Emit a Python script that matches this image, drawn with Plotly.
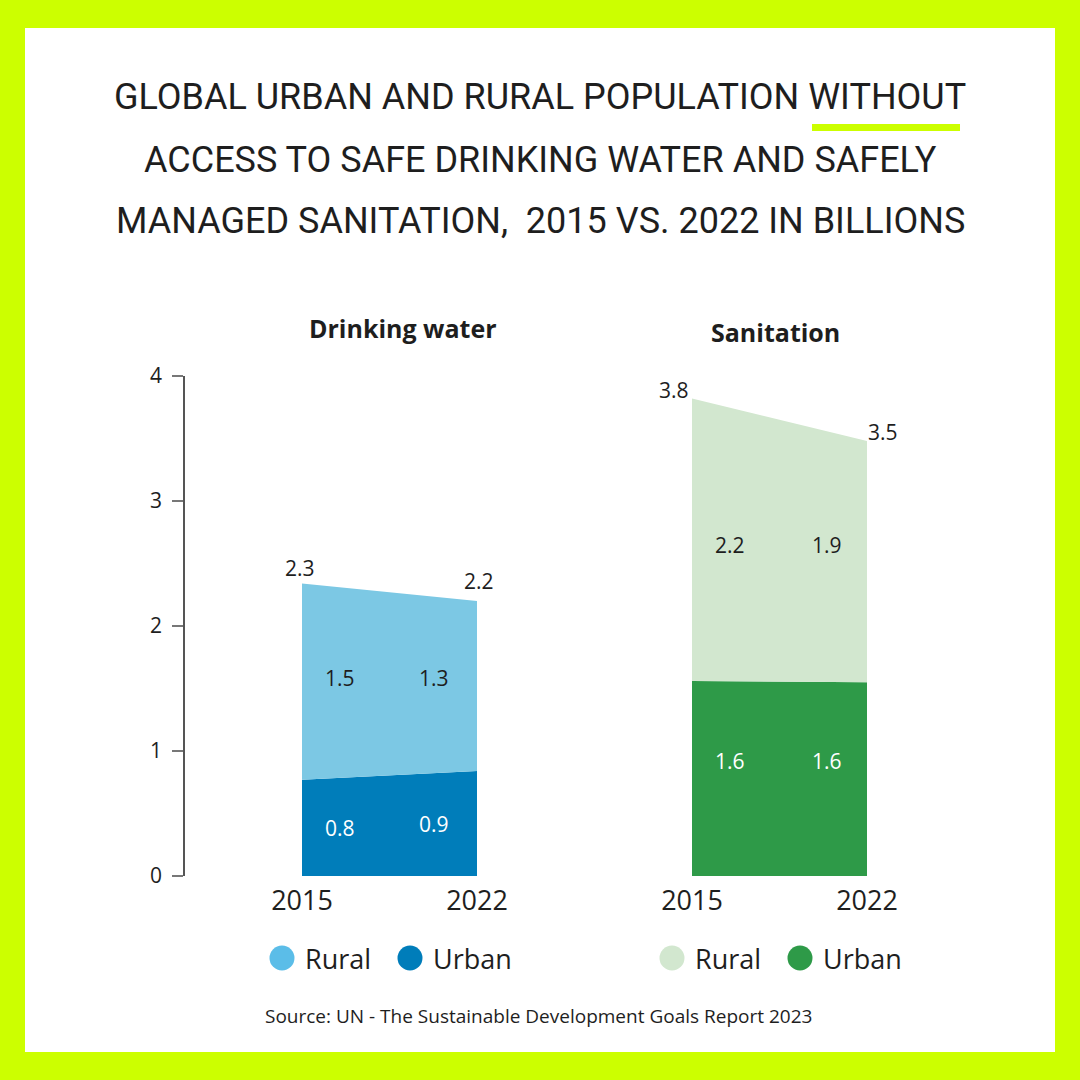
import plotly.graph_objects as go

# ---- data (billions) ----
years = [2015, 2022]
water_urban = [0.77, 0.84]
water_rural = [1.57, 1.36]
san_urban = [1.56, 1.55]
san_rural = [2.26, 1.93]

water_urban_lbl = ["0.8", "0.9"]
water_rural_lbl = ["1.5", "1.3"]
water_total_lbl = ["2.3", "2.2"]
san_urban_lbl = ["1.6", "1.6"]
san_rural_lbl = ["2.2", "1.9"]
san_total_lbl = ["3.8", "3.5"]

y_ticks = [0, 1, 2, 3, 4]
year_ticks = ["2015", "2022"]
legend_names = ["Rural", "Urban"]

# ---- colours ----
LIME = "#CCFF00"
W_RURAL = "#7CC8E4"
W_URBAN = "#007DBA"
W_RURAL_LEG = "#5BBDE8"
S_RURAL = "#D2E7CF"
S_URBAN = "#2E9A48"
TXT = "#1E1E1E"
NUMFONT = "Open Sans, Noto Sans, sans-serif"
TITLEFONT = "Roboto, Liberation Sans, sans-serif"

water_total = [u + r for u, r in zip(water_urban, water_rural)]
san_total = [u + r for u, r in zip(san_urban, san_rural)]

fig = go.Figure()

# Drinking water
fig.add_trace(go.Scatter(x=years, y=water_urban, mode="lines", line=dict(width=0),
                         fill="tozeroy", fillcolor=W_URBAN, name="Urban", showlegend=False,
                         hoverinfo="skip", xaxis="x", yaxis="y"))
fig.add_trace(go.Scatter(x=years, y=water_total, mode="lines", line=dict(width=0),
                         fill="tonexty", fillcolor=W_RURAL, name="Rural", showlegend=False,
                         hoverinfo="skip", xaxis="x", yaxis="y"))
# Sanitation
fig.add_trace(go.Scatter(x=years, y=san_urban, mode="lines", line=dict(width=0),
                         fill="tozeroy", fillcolor=S_URBAN, name="Urban", showlegend=False,
                         hoverinfo="skip", xaxis="x2", yaxis="y"))
fig.add_trace(go.Scatter(x=years, y=san_total, mode="lines", line=dict(width=0),
                         fill="tonexty", fillcolor=S_RURAL, name="Rural", showlegend=False,
                         hoverinfo="skip", xaxis="x2", yaxis="y"))

ann = []
def lbl(xref, x, y, text, color=TXT, xshift=0, yshift=0, size=21):
    ann.append(dict(xref=xref, yref="y", x=x, y=y, text=text, showarrow=False,
                    xanchor="center", yanchor="middle", xshift=xshift, yshift=yshift,
                    font=dict(family=NUMFONT, size=size, color=color)))

# value labels: water
w_rural_mid = sum(u + r / 2 for u, r in zip(water_urban, water_rural)) / 2
for i, xv in enumerate(years):
    sh = 38 if i == 0 else -43
    lbl("x", xv, water_urban[i] / 2, water_urban_lbl[i], "white", xshift=sh)
    lbl("x", xv, w_rural_mid, water_rural_lbl[i], xshift=sh, yshift=6)
lbl("x", years[0], water_total[0], water_total_lbl[0], xshift=-2, yshift=16)
lbl("x", years[1], water_total[1], water_total_lbl[1], xshift=2, yshift=20)
# value labels: sanitation
s_rural_mid = sum(u + r / 2 for u, r in zip(san_urban, san_rural)) / 2
for i, xv in enumerate(years):
    sh = 38 if i == 0 else -40
    lbl("x2", xv, san_urban[i] / 2, san_urban_lbl[i], "white", xshift=sh, yshift=18)
    lbl("x2", xv, s_rural_mid, san_rural_lbl[i], xshift=sh, yshift=6)
lbl("x2", years[0], san_total[0], san_total_lbl[0], xshift=-18, yshift=8)
lbl("x2", years[1], san_total[1], san_total_lbl[1], xshift=16, yshift=9)

def pann(x, y, text, font, xanchor="center"):
    ann.append(dict(xref="paper", yref="paper", x=x / 1080, y=1 - y / 1080, text=text,
                    showarrow=False, xanchor=xanchor, yanchor="middle", font=font))

# panel titles
pann(403, 328, "<b>Drinking water</b>", dict(family=NUMFONT, size=25, color=TXT))
pann(775, 332, "<b>Sanitation</b>", dict(family=NUMFONT, size=25, color=TXT))

# main title
title_lines = ["GLOBAL URBAN AND RURAL POPULATION WITHOUT",
               "ACCESS TO SAFE DRINKING WATER AND SAFELY",
               "MANAGED SANITATION,  2015 VS. 2022 IN BILLIONS"]
for line, yc in zip(title_lines, [97, 160, 221]):
    pann(540, yc, line, dict(family=TITLEFONT, size=36, color=TXT))

# source
pann(538, 1016, "Source: UN - The Sustainable Development Goals Report 2023",
     dict(family=NUMFONT, size=19, color=TXT))

shapes = [
    dict(type="rect", xref="paper", yref="paper", x0=25 / 1080, x1=1055 / 1080,
         y0=1 - 1052 / 1080, y1=1 - 28 / 1080, fillcolor="white", line=dict(width=0), layer="below"),
    dict(type="rect", xref="paper", yref="paper", x0=812 / 1080, x1=960 / 1080,
         y0=1 - 131 / 1080, y1=1 - 124 / 1080, fillcolor=LIME, line=dict(width=0)),
]

# legends (large dots + labels)
LEG_Y = 958
for x0, cols in [(282, [W_RURAL_LEG, W_URBAN]), (672, [S_RURAL, S_URBAN])]:
    for j, (nm, col) in enumerate(zip(legend_names, cols)):
        cx = x0 + 128 * j
        shapes.append(dict(type="circle", xref="paper", yref="paper",
                           x0=(cx - 12.5) / 1080, x1=(cx + 12.5) / 1080,
                           y0=1 - (LEG_Y + 12.5) / 1080, y1=1 - (LEG_Y - 12.5) / 1080,
                           fillcolor=col, line=dict(width=0)))
        pann(cx + 21, LEG_Y, nm, dict(family=NUMFONT, size=27, color=TXT), xanchor="left")

xcommon = dict(range=[2015, 2022], tickvals=years, ticktext=year_ticks, showline=False,
               showgrid=False, zeroline=False, ticks="", anchor="y",
               tickfont=dict(family=NUMFONT, size=27, color=TXT), ticklabelstandoff=6,
               fixedrange=True)

fig.update_layout(
    width=1080, height=1080, margin=dict(l=0, r=0, t=0, b=0, pad=0, autoexpand=False),
    paper_bgcolor=LIME, plot_bgcolor="rgba(0,0,0,0)", showlegend=False,
    xaxis=dict(domain=[302 / 1080, 477 / 1080], **xcommon),
    xaxis2=dict(domain=[692 / 1080, 867 / 1080], **xcommon),
    yaxis=dict(domain=[1 - 876 / 1080, 1 - 376 / 1080], range=[0, 4], tickvals=y_ticks,
               anchor="free", position=184 / 1080, showline=True, linecolor="#555555",
               linewidth=1.5, ticks="outside", ticklen=11, tickcolor="#777777", tickwidth=1.5,
               showgrid=False, zeroline=False, ticklabelstandoff=6, fixedrange=True,
               tickfont=dict(family=NUMFONT, size=21, color=TXT)),
    annotations=ann, shapes=shapes,
)

fig.write_html("out.html", config={"displayModeBar": False},
               post_script="document.body.style.margin='0';")
